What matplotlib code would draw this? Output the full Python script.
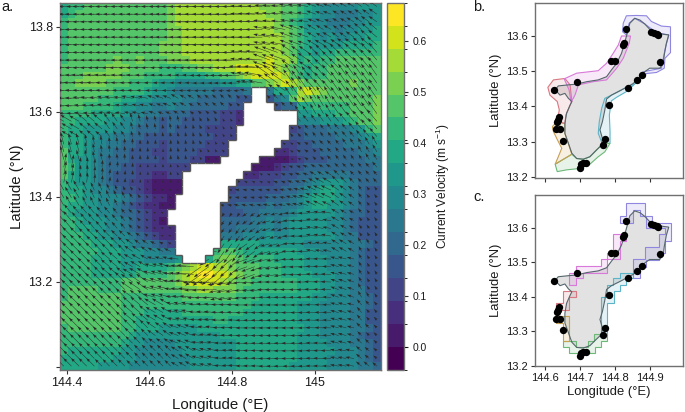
import numpy as np
import matplotlib
matplotlib.use("Agg")
import matplotlib.pyplot as plt
from matplotlib.colors import BoundaryNorm, ListedColormap
from matplotlib.collections import LineCollection
from matplotlib.patches import Polygon

plt.rcParams['font.family'] = ['Liberation Sans', 'DejaVu Sans']
plt.rcParams['mathtext.default'] = 'regular'

# ---- panel a: speed band per cell (hex band index), north row first
SPEED_ROWS = [
"9aabbbbbbbbbbb" "cdddddddddddcc" "cbba9877777888",
"9abbbbbbbbbbbb" "cddddddddddddc" "cbba9877666778",
"abbbbbbbbbbbbb" "cddddddddddddd" "cba98776667788",
"abbbbbbbbbbbbb" "ccdddddddddddd" "ccba8877677889",
"abbbbbbbbbbbbb" "ccdddddddddddd" "dcba9878778899",
"abbbbbbbbbbbbc" "ccdddddddddddd" "dcba988889999a",
"abbbbbbbbbbbbc" "ccdddddddddddd" "dcb99899aaaaaa",
"abbbbbbcbbcbbb" "cccdddddddddde" "ddc9a9aabbbbbb",
"bbbbbbcccbbbba" "aabbccdddeeeee" "dcba9aabbbbbbb",
"bbbcccccbbbaaa" "a9999aabbcdeee" "edba9aabbbbbbb",
"bbccccbbbaaa98" "87777778899bbc" "dedcbbbbbbcbbb",
"bbbbbbbaaaa988" "76666655556666" "99adedcbbbbbbb",
"bbbbbaaa998877" "77665555544444" "67bdcbbbbbbbbc",
"bbbaaaa9887766" "76655555444333" "45599aaaaabbbc",
"aaaa9999877665" "55544443322222" "22288999aabbbc",
"aa999988776554" "55444443322222" "2227778889abbc",
"a9988887765554" "54444333322222" "333455566678ab",
"a9988776655444" "44444433332222" "33445555666789",
"a9987766554443" "44444333332222" "33344555566678",
"b9987665544433" "44443333222222" "22344455555667",
"b9887655544443" "44433111122211" "11234445555566",
"ba887655443333" "33322222222111" "23445555555556",
"b9887654443322" "33222222222233" "34455666665555",
"a9887654433211" "11222222233333" "44556788876555",
"a9987765443211" "11222222344444" "45567899876544",
"aa988777654322" "11111111444445" "55678999876544",
"a9988776543221" "11111114455556" "56678998876544",
"a9888776554322" "11111114445566" "66788888765544",
"aa988877654321" "11111115555667" "67888887765444",
"aa998877654322" "21111115566677" "67888887765444",
"aaa99887765432" "21111116667778" "77888888766444",
"aaaa9998876654" "31111119999988" "88887777776654",
"aaaaa999888776" "611111abba9999" "99988877776544",
"aaaa9999888777" "781119bccbaaaa" "99998887776544",
"aaaa9999889999" "abcdeeddcbbbaa" "a9998887776544",
"aaaa999999aaaa" "bcdeffeedcbbaa" "a9999888776544",
"aaaaaaaabbbbbb" "bcdeeeedcbbaaa" "aaa99988776544",
"abbbbaaabbbbbb" "bbccddcccbaaaa" "aaa99988776644",
"abbbbbbbaaaaaa" "aabbbbbbbaaa99" "99999887776654",
"bbbbbbbbaaaaaa" "aaaaaaaaaaa999" "99988877776654",
"bbbbbbbbaaa999" "99aaaaaaaa9999" "99988877776644",
"bbbbbbbbaa9999" "999999aa999999" "99988877776644",
"abbbbbbbaa9998" "88889999999999" "99998877776654",
"aaaaaaaaa98888" "88888889999999" "99988877776544",
"aaaaaaaa988777" "78888888899999" "99988887776654",
"a9999999887777" "77888888899999" "99988888777654",
"99999998887777" "77788888899999" "99988887777654",
"99999888877777" "77788888899999" "99888887777665",
]

# current direction (degrees counter-clockwise from east), per 3x3-cell block, north row first
DIRECTION_DEG = [
[180,180,180,180,180,180,180,180,178,175,170,160,150,145],
[180,180,180,180,180,180,180,180,180,170,160,150,145,140],
[180,180,180,180,180,180,180,180,175,160,145,135,135,130],
[178,178,178,178,178,178,180,180,170,145,125,130,125,125],
[178,175,172,168,160,150,140,135,135,135,125,120,125,125],
[150,140,125,105,100,100,115,120,130,140,130,125,130,130],
[105,100, 95, 92, 90,100,120,135,140,150,150,135,125,120],
[ 80, 85, 85, 88, 95,120,120,120,150,160,160,150,135,130],
[120,115,115,125,150,170,170,170,170,170,165,155,145,125],
[130,130,130,135,150,170,175,235,215,195,180,170,150,125],
[135,135,135,145,155,170,180,235,215,195,180,170,150,120],
[135,135,140,150,165,175,215,220,200,190,182,178,165,120],
[135,135,135,145,165,175,182,190,185,180,180,178,160,120],
[135,135,135,140,150,168,175,178,180,180,180,178,165,130],
[135,135,135,135,145,160,172,178,180,180,180,178,165,135],
[135,135,135,135,135,150,165,175,178,180,180,178,170,140],
]

# land cells: first land row, then (first col, end col) for each following row
LAND_FIRST_ROW = 11
LAND_SPANS = [(25,27),(25,27),(24,28),(24,31),(24,31),(23,30),(23,30),(22,29),(22,28),
              (21,26),(17,25),(16,24),(16,23),(16,22),(15,22),(15,21),(14,21),(14,21),
              (15,21),(15,21),(15,21),(15,20),(16,19)]

# ---- panels b, c
COAST_LON = [144.857,144.872,144.886,144.900,144.920,144.939,144.955,144.948,144.942,144.939,144.929,
             144.900,144.886,144.867,144.853,144.833,144.810,144.790,144.776,144.771,144.764,144.757,
             144.764,144.762,144.747,144.728,144.709,144.690,144.676,144.666,144.656,144.656,144.661,
             144.671,144.676,144.666,144.656,144.642,144.628,144.637,144.666,144.690,144.719,144.752,
             144.776,144.790,144.805,144.819,144.829,144.838,144.843]
COAST_LAT = [13.649,13.644,13.633,13.618,13.608,13.604,13.602,13.578,13.545,13.522,13.508,
             13.508,13.498,13.479,13.465,13.454,13.442,13.432,13.421,13.390,13.357,13.334,
             13.310,13.291,13.277,13.258,13.251,13.253,13.268,13.296,13.324,13.352,13.381,
             13.404,13.414,13.423,13.437,13.432,13.447,13.458,13.461,13.463,13.470,13.475,
             13.484,13.503,13.522,13.550,13.583,13.616,13.635]
SITE_LON = [144.833,144.905,144.912,144.920,144.924,144.826,144.822,144.789,144.800,144.929,144.690,144.625,
            144.877,144.864,144.839,144.784,144.640,144.637,144.634,144.631,144.642,144.652,144.772,144.767,
            144.716,144.707,144.701,144.700]
SITE_LAT = [13.619,13.611,13.608,13.605,13.603,13.580,13.573,13.528,13.528,13.525,13.470,13.447,
            13.488,13.474,13.453,13.405,13.369,13.362,13.356,13.336,13.335,13.303,13.309,13.290,
            13.241,13.239,13.237,13.227]
ZONE_COLORS = ['#8f86e0', '#5cb4c8', '#6cb878', '#c8a050', '#d87880', '#d878d8']

ZONES_B = [
 [(144.833,13.656),(144.862,13.657),(144.891,13.656),(144.905,13.640),(144.934,13.627),(144.960,13.625),
  (144.960,13.552),(144.944,13.536),(144.942,13.508),(144.920,13.496),(144.891,13.493),(144.872,13.475),
  (144.859,13.465),(144.881,13.498),(144.934,13.508),(144.944,13.560),(144.955,13.602),(144.920,13.608),
  (144.886,13.633),(144.857,13.649),(144.841,13.635),(144.833,13.602),(144.822,13.611),(144.824,13.635)],
 [(144.859,13.465),(144.833,13.442),(144.805,13.426),(144.790,13.416),(144.784,13.376),(144.786,13.329),
  (144.786,13.296),(144.764,13.294),(144.752,13.324),(144.755,13.357),(144.762,13.395),(144.771,13.423),
  (144.790,13.432),(144.833,13.454)],
 [(144.786,13.296),(144.771,13.272),(144.752,13.258),(144.728,13.237),(144.700,13.225),(144.661,13.221),
  (144.634,13.216),(144.628,13.237),(144.676,13.265),(144.690,13.253),(144.709,13.251),(144.728,13.258),
  (144.747,13.277),(144.764,13.294)],
 [(144.676,13.265),(144.628,13.237),(144.637,13.258),(144.647,13.282),(144.637,13.301),(144.623,13.329),
  (144.620,13.343),(144.633,13.357),(144.656,13.352),(144.656,13.324),(144.666,13.296)],
 [(144.633,13.357),(144.640,13.390),(144.634,13.414),(144.613,13.432),(144.607,13.454),(144.623,13.475),
  (144.656,13.479),(144.671,13.461),(144.676,13.414),(144.669,13.399),(144.659,13.376),(144.656,13.352)],
 [(144.654,13.478),(144.690,13.494),(144.752,13.501),(144.776,13.522),(144.795,13.550),(144.810,13.574),
  (144.819,13.599),(144.845,13.599),(144.841,13.578),(144.824,13.536),(144.805,13.508),(144.776,13.475),
  (144.738,13.470),(144.695,13.461),(144.685,13.432),(144.674,13.412),(144.668,13.447)],
]
ZONES_C = [
 [(144.833,13.671),(144.888,13.671),(144.888,13.635),(144.908,13.635),(144.908,13.615),(144.962,13.615),
  (144.962,13.561),(144.945,13.561),(144.945,13.526),(144.926,13.526),(144.926,13.506),(144.890,13.506),
  (144.890,13.485),(144.871,13.485),(144.871,13.453),(144.852,13.453),(144.852,13.508),(144.888,13.508),
  (144.888,13.543),(144.926,13.543),(144.926,13.581),(144.945,13.581),(144.945,13.600),(144.890,13.600),
  (144.890,13.635),(144.871,13.635),(144.871,13.651),(144.852,13.651),(144.852,13.613),(144.814,13.613),
  (144.814,13.635),(144.833,13.635)],
 [(144.852,13.470),(144.814,13.470),(144.814,13.453),(144.795,13.453),(144.795,13.434),(144.778,13.434),
  (144.778,13.398),(144.760,13.398),(144.760,13.292),(144.778,13.292),(144.778,13.381),(144.798,13.381),
  (144.798,13.417),(144.814,13.417),(144.814,13.434),(144.833,13.434),(144.833,13.453),(144.852,13.453)],
 [(144.740,13.292),(144.778,13.292),(144.778,13.272),(144.760,13.272),(144.760,13.253),(144.742,13.253),
  (144.742,13.236),(144.669,13.236),(144.669,13.253),(144.650,13.253),(144.650,13.272),(144.688,13.272),
  (144.688,13.253),(144.723,13.253),(144.723,13.272),(144.740,13.272)],
 [(144.631,13.344),(144.669,13.344),(144.669,13.272),(144.650,13.272),(144.650,13.325),(144.631,13.325)],
 [(144.650,13.416),(144.688,13.416),(144.688,13.398),(144.669,13.398),(144.669,13.361),(144.631,13.361),
  (144.631,13.381),(144.650,13.381)],
 [(144.669,13.470),(144.688,13.470),(144.688,13.489),(144.760,13.489),(144.760,13.508),(144.778,13.508),
  (144.778,13.526),(144.795,13.526),(144.795,13.581),(144.833,13.581),(144.833,13.562),(144.814,13.562),
  (144.814,13.508),(144.778,13.508),(144.778,13.470),(144.707,13.470),(144.707,13.453),(144.688,13.453),
  (144.688,13.434),(144.669,13.434)],
]

# ---- axis labels / ticks
A_XTICKS = [144.4, 144.6, 144.8, 145.0]
A_XLABELS = ['144.4', '144.6', '144.8', '145']
A_YTICKS = [13.0, 13.2, 13.4, 13.6, 13.8]
A_YLABELS = ['', '13.2', '13.4', '13.6', '13.8']
CB_TICKS = [0.0, 0.1, 0.2, 0.3, 0.4, 0.5, 0.6]
BC_XTICKS = [144.6, 144.7, 144.8, 144.9]
BC_YTICKS = [13.2, 13.3, 13.4, 13.5, 13.6]

W, H = 685, 412
fig = plt.figure(figsize=(W/100, H/100), dpi=100)
SPINE = '#707070'
TXT = '#1a1a1a'

def add_ax(l, t, r, b):
    return fig.add_axes([l/W, 1-b/H, (r-l)/W, (b-t)/H])

def style(ax, ts):
    for s in ax.spines.values():
        s.set_color(SPINE); s.set_linewidth(1.0)
    ax.tick_params(colors='#333333', labelcolor=TXT, labelsize=ts, length=3.2, width=0.8, pad=2)

# ---- panel a
ax = add_ax(60, 2.7, 380.7, 370)
xlim = (144.384, 145.159); ylim = (12.992, 13.856)
levels = np.linspace(-0.0445, 0.675, 17)
centres = 0.5*(levels[:-1]+levels[1:])
band = np.array([[int(c, 16) for c in row] for row in SPEED_ROWS])
speed = centres[band]
ny, nx = speed.shape
land = np.zeros((ny, nx), bool)
for i, (a, b) in enumerate(LAND_SPANS):
    land[LAND_FIRST_ROW+i, a:b] = True
xe = np.linspace(*xlim, nx+1)
ye = np.linspace(ylim[1], ylim[0], ny+1)
xc = 0.5*(xe[:-1]+xe[1:]); yc = 0.5*(ye[:-1]+ye[1:])
cmap = plt.get_cmap('viridis', 16)
norm = BoundaryNorm(levels, 16)
mesh = ax.pcolormesh(xe, ye, np.ma.masked_where(land, speed), cmap=cmap, norm=norm,
                     antialiased=False, linewidth=0, rasterized=True)
deg = np.kron(np.array(DIRECTION_DEG), np.ones((3, 3)))
mag = np.clip(speed, 0.09, None)
U = mag*np.cos(np.radians(deg)); V = mag*np.sin(np.radians(deg))
XX, YY = np.meshgrid(xc, yc)
ok = ~land
ax.quiver(XX[ok], YY[ok], U[ok], V[ok], angles='uv', units='inches', scale=3.3, scale_units='inches',
          width=0.0048, headwidth=6, headlength=9, headaxislength=8, color='#2a2a2a', pivot='tail',
          minlength=0.3, zorder=3)
ax.pcolormesh(xe, ye, np.ma.masked_where(~land, np.ones_like(speed)),
              cmap=ListedColormap(['white']), antialiased=False, linewidth=0, zorder=3.5)
segs = []
for j in range(ny):
    for i in range(nx):
        if not land[j, i]:
            continue
        if j == 0 or not land[j-1, i]:
            segs.append([(xe[i], ye[j]), (xe[i+1], ye[j])])
        if j == ny-1 or not land[j+1, i]:
            segs.append([(xe[i], ye[j+1]), (xe[i+1], ye[j+1])])
        if i == 0 or not land[j, i-1]:
            segs.append([(xe[i], ye[j]), (xe[i], ye[j+1])])
        if i == nx-1 or not land[j, i+1]:
            segs.append([(xe[i+1], ye[j]), (xe[i+1], ye[j+1])])
ax.add_collection(LineCollection(segs, colors='#555555', linewidths=1.0, zorder=4))
ax.set_xlim(*xlim); ax.set_ylim(*ylim)
ax.set_xticks(A_XTICKS, A_XLABELS); ax.set_yticks(A_YTICKS, A_YLABELS)
style(ax, 9)
ax.set_xlabel('Longitude (°E)', fontsize=10.8, color=TXT, labelpad=6)
ax.set_ylabel('Latitude (°N)', fontsize=10.8, color=TXT, labelpad=3)

cax = add_ax(386.7, 2.7, 404.3, 370)
cb = fig.colorbar(mesh, cax=cax, ticks=CB_TICKS, spacing='proportional', drawedges=False)
cb.ax.set_yticklabels([f'{t:.1f}' for t in CB_TICKS])
cb.outline.set_edgecolor(SPINE); cb.outline.set_linewidth(1.0)
cb.ax.tick_params(colors='#333333', labelcolor=TXT, labelsize=7.4, length=3.2, width=0.8, pad=3)
cb.set_label('Current Velocity (m s$^{-1}$)', fontsize=8.6, color=TXT, labelpad=5)

# ---- panels b, c
def map_panel(ax, zones, ylim, show_x):
    ax.fill(COAST_LON, COAST_LAT, facecolor='#e2e2e2', edgecolor='none', zorder=1)
    for poly, col in zip(zones, ZONE_COLORS):
        ax.add_patch(Polygon(poly, closed=True, facecolor=matplotlib.colors.to_rgba(col, 0.16),
                             edgecolor=col, linewidth=0.8, zorder=2))
    ax.fill(COAST_LON, COAST_LAT, facecolor='none', edgecolor='#55666c', linewidth=0.8, zorder=3)
    ax.scatter(SITE_LON, SITE_LAT, s=28, color='black', linewidths=0, zorder=5)
    ax.set_xlim(144.570, 144.996); ax.set_ylim(*ylim)
    ax.set_xticks(BC_XTICKS); ax.set_yticks(BC_YTICKS)
    style(ax, 8)
    if not show_x:
        ax.set_xticklabels([])
    ax.set_ylabel('Latitude (°N)', fontsize=9.4, color=TXT, labelpad=3)

axb = add_ax(535, 2.7, 683, 178)
map_panel(axb, ZONES_B, (13.198, 13.693), False)
axc = add_ax(535, 194.7, 683, 366)
map_panel(axc, ZONES_C, (13.199, 13.696), True)
axc.set_xlabel('Longitude (°E)', fontsize=9.4, color=TXT, labelpad=2)

for s, x, y in [('a.', 1, 7), ('b.', 473, 7), ('c.', 473, 197)]:
    fig.text(x/W, 1-y/H, s, fontsize=10.5, color=TXT, ha='left', va='center')

fig.savefig('out.png', dpi=100)
